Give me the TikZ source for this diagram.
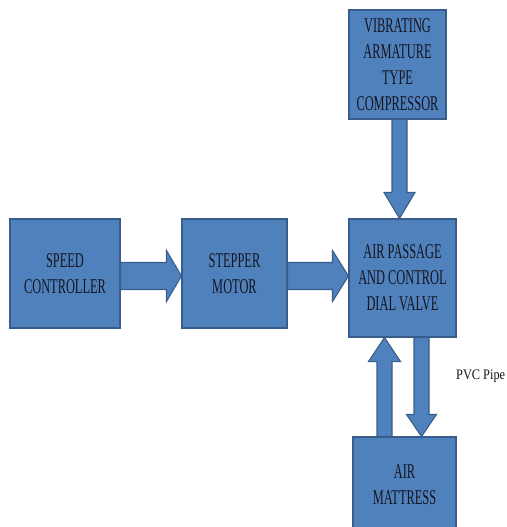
\documentclass[tikz,border=0pt]{standalone}
\usepackage{fontspec}
\setmainfont{Liberation Serif}
\newfontfamily\boxfont[FakeStretch=0.59]{Liberation Serif}
\newfontfamily\lblfont[FakeStretch=0.85]{Liberation Serif}
\usetikzlibrary{calc}
\definecolor{boxblue}{HTML}{4F81BD}
\definecolor{boxedge}{HTML}{385D8A}
\definecolor{txt}{HTML}{15151F}
\tikzset{
  blockbox/.style={draw=boxedge, fill=boxblue, line width=1.1pt, inner sep=0pt,
    align=center, text=txt, font=\boxfont\fontsize{21}{26}\selectfont},
  barrow/.style={draw=boxedge, fill=boxblue, line width=1.1pt, line join=miter},
}
% #1 start, #2 tip, #3 shaft half-width, #4 head half-width, #5 head length
\newcommand\blockarrow[5]{%
  \coordinate (hb) at ($(#2)!#5!(#1)$);
  \draw[barrow] ($(#1)!#3!90:(#2)$) -- ($(hb)!#3!-90:(#1)$) -- ($(hb)!#4!-90:(#1)$)
    -- (#2) -- ($(hb)!#4!90:(#1)$) -- ($(hb)!#3!90:(#1)$) -- ($(#1)!#3!-90:(#2)$) -- cycle;}
\begin{document}
\begin{tikzpicture}[x=1pt,y=-1pt]
\useasboundingbox (0,0) rectangle (506,527);
\node[blockbox, minimum width=97pt, minimum height=109pt] (cp) at (397.5,64.5)
  {VIBRATING\\ARMATURE\\TYPE\\COMPRESSOR};
\node[blockbox, minimum width=107pt, minimum height=118pt] (ap) at (402.5,278)
  {AIR PASSAGE\\AND CONTROL\\DIAL VALVE};
\node[blockbox, minimum width=110pt, minimum height=109pt] (sc) at (65,273.5)
  {SPEED\\CONTROLLER};
\node[blockbox, minimum width=105pt, minimum height=109pt] (sm) at (234.5,273.5)
  {STEPPER\\MOTOR};
\node[blockbox, minimum width=103pt, minimum height=96pt] (mt) at (404.5,485)
  {AIR\\MATTRESS};
\node[anchor=base west, inner sep=0pt, text=txt, font=\lblfont\fontsize{14.5}{16}\selectfont] (pvc) at (456,379) {PVC Pipe};
% arrows
\coordinate (a1s) at ($(sc.east)+(0,2.5)$);
\coordinate (a1e) at (a1s -| sm.west);
\blockarrow{a1s}{a1e}{13.5pt}{25.5pt}{15pt}
\coordinate (a2s) at ($(sm.east)+(0,2.5)$);
\coordinate (a2e) at (a2s -| ap.west);
\blockarrow{a2s}{a2e}{13.5pt}{25.5pt}{16pt}
\coordinate (a3s) at ($(cp.south)+(2,0)$);
\coordinate (a3e) at (a3s |- ap.north);
\blockarrow{a3s}{a3e}{7.5pt}{15.5pt}{26pt}
\coordinate (a4s) at ($(mt.north)+(-20,0)$);
\coordinate (a4e) at (a4s |- ap.south);
\blockarrow{a4s}{a4e}{7.5pt}{16pt}{24pt}
\coordinate (a5s) at ($(ap.south)+(19,0)$);
\coordinate (a5e) at (a5s |- mt.north);
\blockarrow{a5s}{a5e}{7.5pt}{15pt}{22pt}
\end{tikzpicture}
\end{document}
